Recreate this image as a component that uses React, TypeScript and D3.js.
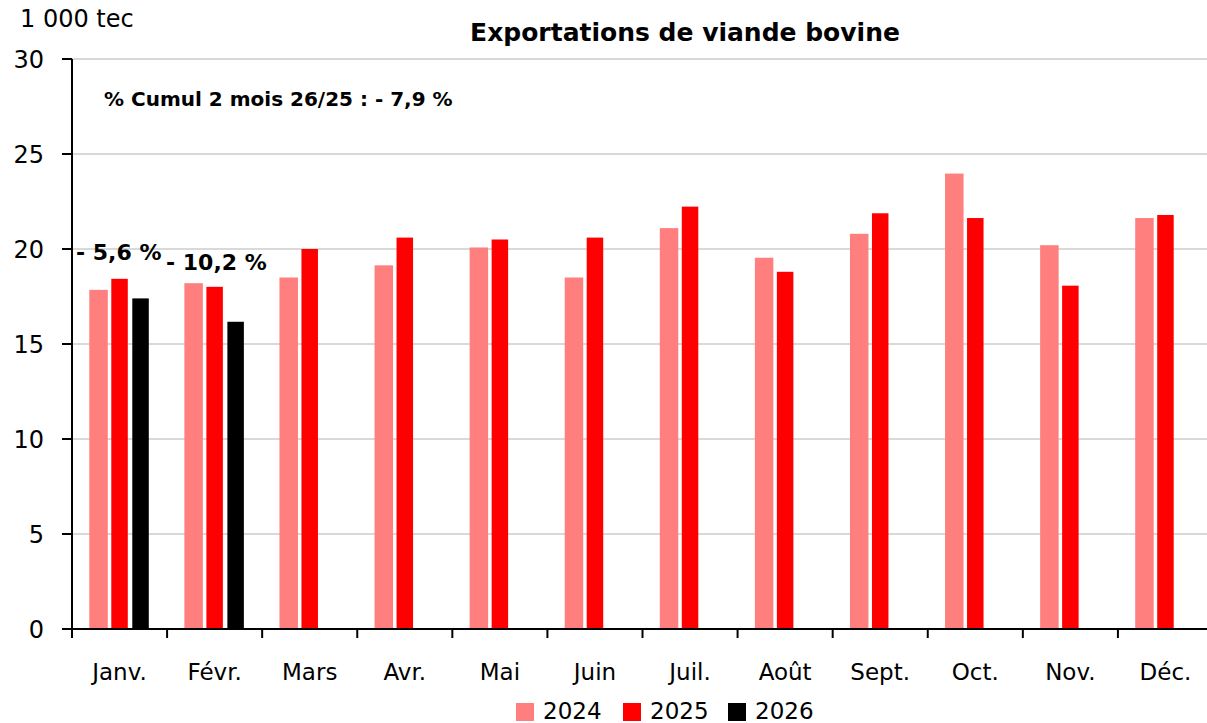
import React from "react";
import * as d3 from "d3";

const months = ["Janv.", "Févr.", "Mars", "Avr.", "Mai", "Juin", "Juil.", "Août", "Sept.", "Oct.", "Nov.", "Déc."];
const v2024 = [17.85, 18.2, 18.5, 19.14, 20.08, 18.5, 21.1, 19.54, 20.8, 23.97, 20.2, 21.63];
const v2025 = [18.43, 18.01, 20.0, 20.6, 20.5, 20.6, 22.23, 18.8, 21.88, 21.63, 18.07, 21.79];
const v2026 = [17.4, 16.17];
const yTicks = [0, 5, 10, 15, 20, 25, 30];
const pctLabels = ["- 5,6 %", "- 10,2 %"];
const seriesNames = ["2024", "2025", "2026"];
const colors = ["#ff7f7f", "#ff0000", "#000000"];

const FONT = "'DejaVu Sans', sans-serif";

export default function App() {
  const W = 1207, H = 723;
  const left = 72, right = 1213, top = 59, bottom = 629;
  const x = d3.scaleBand<string>().domain(months).range([left, right]);
  const y = d3.scaleLinear().domain([0, 30]).range([bottom, top]);
  const bw = x.bandwidth();
  const offsets = [-21, 0, 21];
  const widths = [18.5, 16.5, 16.5];
  const series = [v2024, v2025, v2026];

  return (
    <svg width={W} height={H} style={{ position: "absolute", left: 0, top: 0, background: "#fff" }} fontFamily={FONT}>
      {yTicks.map((t) => (
        <g key={t}>
          {t > 0 && <line x1={left} x2={W} y1={y(t)} y2={y(t)} stroke="#d9d9d9" strokeWidth={2} />}
          <line x1={62} x2={left} y1={y(t)} y2={y(t)} stroke="#000" strokeWidth={2} />
          <text x={44} y={y(t) + 8.5} textAnchor="end" fontSize={24} fill="#000">{t}</text>
        </g>
      ))}
      {series.map((vals, si) =>
        vals.map((v, i) => {
          const cx = (x(months[i]) as number) + bw / 2 + offsets[si];
          return (
            <rect key={si + "-" + i} x={cx - widths[si] / 2} y={y(v)} width={widths[si]} height={y(0) - y(v)} fill={colors[si]} />
          );
        })
      )}
      <line x1={left} x2={left} y1={top} y2={bottom} stroke="#000" strokeWidth={2} />
      <line x1={left - 1} x2={W} y1={bottom} y2={bottom} stroke="#000" strokeWidth={2} />
      {months.map((m, i) => (
        <line key={"t" + i} x1={x(m) as number} x2={x(m) as number} y1={bottom} y2={bottom + 9} stroke="#000" strokeWidth={2} />
      ))}
      {months.map((m) => (
        <text key={m} x={(x(m) as number) + bw / 2} y={680} textAnchor="middle" fontSize={23} fill="#000">{m}</text>
      ))}
      <text x={20} y={27} fontSize={24} fill="#000">1 000 tec</text>
      <text x={685} y={41} textAnchor="middle" fontSize={25} fontWeight="bold" fill="#000">Exportations de viande bovine</text>
      <text x={104} y={106} fontSize={20} fontWeight="bold" fill="#000">% Cumul 2 mois 26/25 : - 7,9 %</text>
      <text x={76} y={260} fontSize={22} fontWeight="bold" fill="#000">{pctLabels[0]}</text>
      <text x={166} y={270} fontSize={22} fontWeight="bold" fill="#000">{pctLabels[1]}</text>
      {seriesNames.map((s, i) => {
        const lx = [516, 623, 728][i];
        return (
          <g key={s}>
            <rect x={lx} y={703} width={18} height={18} fill={colors[i]} />
            <text x={lx + 27} y={719} fontSize={23} fill="#000">{s}</text>
          </g>
        );
      })}
    </svg>
  );
}
